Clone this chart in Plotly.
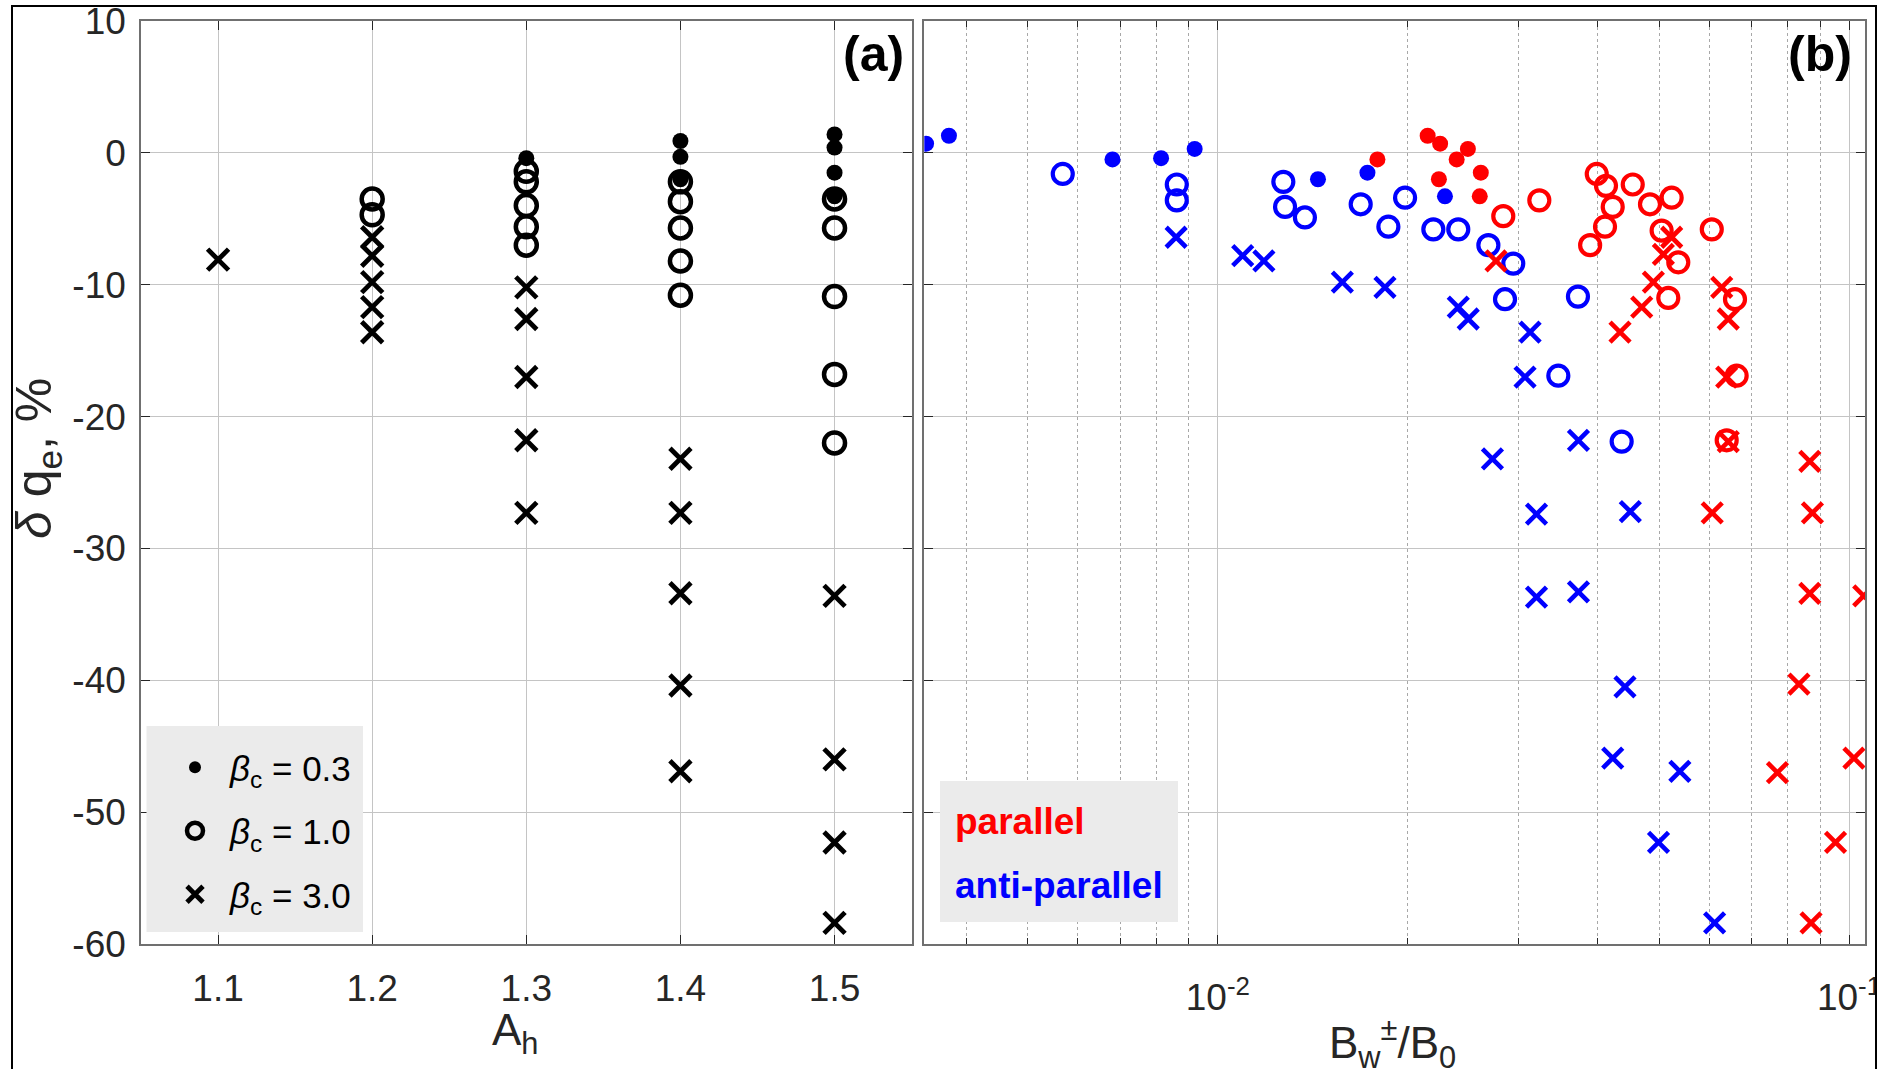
import plotly.graph_objects as go

# ---------------- Panel (a): delta q_e versus A_h ----------------
A_b03 = [1.3, 1.4, 1.4, 1.4, 1.5, 1.5, 1.5, 1.5]
dq_b03 = [-0.4, 0.9, -0.3, -2.0, 1.4, 0.4, -1.5, -3.3]

A_b10 = [1.2, 1.2, 1.3, 1.3, 1.3, 1.3, 1.3, 1.4, 1.4, 1.4, 1.4, 1.4,
         1.5, 1.5, 1.5, 1.5, 1.5]
dq_b10 = [-3.5, -4.7, -1.4, -2.2, -4.0, -5.6, -7.0, -2.2, -3.7, -5.7, -8.2, -10.8,
          -3.5, -5.7, -10.9, -16.8, -22.0]

A_b30 = [1.1, 1.2, 1.2, 1.2, 1.2, 1.2, 1.3, 1.3, 1.3, 1.3, 1.3,
         1.4, 1.4, 1.4, 1.4, 1.4, 1.5, 1.5, 1.5, 1.5]
dq_b30 = [-8.1, -6.4, -7.8, -9.8, -11.7, -13.6, -10.2, -12.6, -17.0, -21.8, -27.3,
          -23.2, -27.3, -33.4, -40.4, -46.9, -33.6, -46.0, -52.3, -58.4]

# ---------------- Panel (b): delta q_e versus B_w/B_0 ----------------
# parallel (red)
Bpar_b03 = [0.0179, 0.0215, 0.0225, 0.0224, 0.0239, 0.0249, 0.0261, 0.0260]
dqpar_b03 = [-0.5, 1.3, 0.7, -2.0, -0.5, 0.3, -1.5, -3.3]
Bpar_b10 = [0.02833, 0.03231, 0.03984, 0.04121, 0.04223, 0.04106, 0.03889, 0.04543,
            0.04838, 0.05236, 0.05048, 0.05364, 0.05172, 0.06061, 0.06597, 0.06637, 0.06400]
dqpar_b10 = [-4.8, -3.6, -1.6, -2.5, -4.1, -5.6, -7.0, -2.4,
             -3.9, -3.4, -5.9, -8.3, -11.0, -5.8, -11.1, -16.9, -21.8]
Bpar_b30 = [0.02759, 0.05236, 0.05080, 0.04898, 0.04694, 0.04337, 0.06285, 0.06437,
            0.06400, 0.06437, 0.08667, 0.08750, 0.06071, 0.08667, 0.1055, 0.08329,
            0.1018, 0.07702, 0.09519, 0.08706]
dqpar_b30 = [-8.2, -6.4, -7.7, -9.8, -11.7, -13.6, -10.2, -12.6,
             -17.0, -21.9, -23.4, -27.3, -27.3, -33.4, -33.6, -40.3,
             -45.9, -47.0, -52.3, -58.4]
# anti-parallel (blue)
Banti_b03 = [0.00345, 0.00375, 0.00681, 0.00813, 0.00919, 0.01441, 0.01726, 0.02290]
dqanti_b03 = [0.7, 1.3, -0.5, -0.4, 0.3, -2.0, -1.5, -3.3]
Banti_b10 = [0.00568, 0.00861, 0.00861, 0.01270, 0.01278, 0.01374, 0.01684, 0.01863,
             0.01980, 0.02195, 0.02404, 0.02683, 0.02938, 0.02851, 0.03720, 0.03463, 0.04363]
dqanti_b10 = [-1.6, -2.4, -3.6, -2.2, -4.1, -4.9, -3.9, -5.6,
              -3.4, -5.8, -5.8, -7.0, -8.4, -11.1, -10.9, -16.9, -21.9]
Banti_b30 = [0.00859, 0.01095, 0.01183, 0.01575, 0.01840, 0.02404, 0.02493, 0.03124,
             0.03067, 0.02723, 0.03727, 0.03198, 0.04503, 0.03198, 0.03727, 0.04416,
             0.04223, 0.05395, 0.04991, 0.06124]
dqanti_b30 = [-6.4, -7.8, -8.2, -9.8, -10.2, -11.7, -12.6, -13.6,
              -17.0, -23.2, -21.8, -27.4, -27.2, -33.7, -33.3, -40.5,
              -45.9, -46.9, -52.3, -58.4]

A_ticks = [1.1, 1.2, 1.3, 1.4, 1.5]
A_ticktext = ["1.1", "1.2", "1.3", "1.4", "1.5"]
B_ticks = [0.01, 0.1]
B_ticktext = ["10<sup>-2</sup>", "10<sup>-1</sup>"]
B_minor = [0.004, 0.005, 0.006, 0.007, 0.008, 0.009,
           0.02, 0.03, 0.04, 0.05, 0.06, 0.07, 0.08, 0.09]
dq_ticks = [10, 0, -10, -20, -30, -40, -50, -60]
dq_ticktext = ["10", "0", "-10", "-20", "-30", "-40", "-50", "-60"]

legend_labels = ["<i>β</i><sub>c</sub> = 0.3", "<i>β</i><sub>c</sub> = 1.0",
                 "<i>β</i><sub>c</sub> = 3.0"]

# ---------------- geometry ----------------
W, H = 1877, 1069
ML, MR, MT, MB = 141, 12, 21, 125
PW, PH = W - ML - MR, H - MT - MB


def px(x):
    """screen x pixel -> paper coordinate"""
    return (x - ML) / PW


def py(y):
    """screen y pixel -> paper coordinate"""
    return (H - MB - y) / PH


FONT = "Liberation Sans, Arial, Helvetica, sans-serif"
TXT = "#262626"
RED, BLUE, BLACK = "#ff0000", "#0000ff", "#000000"

# marker styles: panel (a) slightly larger than panel (b)
DOT_A = dict(symbol="circle", size=16, line=dict(width=0))
RING_A = dict(symbol="circle-open", size=21, line=dict(width=4.5))
CROSS_A = dict(symbol="x-thin-open", size=21, line=dict(width=4.8))
DOT_B = dict(symbol="circle", size=16, line=dict(width=0))
RING_B = dict(symbol="circle-open", size=20, line=dict(width=4.2))
CROSS_B = dict(symbol="x-thin-open", size=20, line=dict(width=4.6))


def mk(style, color, size=None):
    m = dict(style)
    m["color"] = color
    m["line"] = dict(style["line"], color=color)
    if size is not None:
        m["size"] = size
    return m


fig = go.Figure()

# panel (a)
for xs, ys, style in [(A_b03, dq_b03, DOT_A), (A_b10, dq_b10, RING_A),
                      (A_b30, dq_b30, CROSS_A)]:
    fig.add_trace(go.Scatter(x=xs, y=ys, mode="markers", marker=mk(style, BLACK),
                             showlegend=False, xaxis="x", yaxis="y"))

# legend entries for panel (a)
for lab, style, sz in [(legend_labels[0], DOT_A, 12), (legend_labels[1], RING_A, 16),
                       (legend_labels[2], CROSS_A, 16)]:
    fig.add_trace(go.Scatter(x=[None], y=[None], mode="markers",
                             marker=mk(style, BLACK, sz), name=lab, legendgroup=lab,
                             showlegend=True, xaxis="x", yaxis="y"))

# panel (b)
for xs, ys, style, col in [(Banti_b03, dqanti_b03, DOT_B, BLUE),
                           (Bpar_b03, dqpar_b03, DOT_B, RED),
                           (Banti_b10, dqanti_b10, RING_B, BLUE),
                           (Bpar_b10, dqpar_b10, RING_B, RED),
                           (Banti_b30, dqanti_b30, CROSS_B, BLUE),
                           (Bpar_b30, dqpar_b30, CROSS_B, RED)]:
    fig.add_trace(go.Scatter(x=xs, y=ys, mode="markers", marker=mk(style, col),
                             showlegend=False, xaxis="x2", yaxis="y2"))

AX_LINE = "#707070"
GRID = "#c4c4c4"
common = dict(showline=True, linecolor=AX_LINE, linewidth=1.5, mirror="ticks",
              ticks="inside", ticklen=9, tickwidth=1.3, tickcolor=TXT,
              showgrid=True, gridcolor=GRID, gridwidth=1.4, zeroline=False,
              automargin=False, ticklabeloverflow="allow",
              tickfont=dict(family=FONT, size=37, color=TXT))

fig.update_layout(
    width=W, height=H,
    margin=dict(l=ML, r=MR, t=MT, b=MB, autoexpand=False),
    paper_bgcolor="white", plot_bgcolor="white",
    font=dict(family=FONT, color=TXT),
    xaxis=dict(domain=[0, px(911.6)], range=[1.05, 1.55], anchor="y", tickmode="array",
               tickvals=A_ticks, ticktext=A_ticktext, ticklabelstandoff=11, **common),
    yaxis=dict(domain=[0, 1], range=[-60, 10], anchor="x", tickmode="array",
               tickvals=dq_ticks, ticktext=dq_ticktext, ticklabelstandoff=6, **common),
    xaxis2=dict(domain=[px(924.3), 1], type="log", range=[-2.465, -0.9747], anchor="y2",
                tickmode="array", tickvals=B_ticks, ticktext=B_ticktext,
                ticklabelstandoff=20,
                minor=dict(tickmode="array", tickvals=B_minor, ticks="inside", ticklen=6,
                           tickcolor=TXT, showgrid=True, gridcolor="#a8a8a8",
                           gridwidth=1, griddash="dot"),
                **common),
    yaxis2=dict(domain=[0, 1], range=[-60, 10], anchor="x2", matches="y",
                tickmode="array", tickvals=dq_ticks, showticklabels=False, **common),
    legend=dict(x=px(160), y=py(738), xanchor="left", yanchor="top",
                bgcolor="rgba(0,0,0,0)", borderwidth=0, traceorder="grouped",
                tracegroupgap=15, itemsizing="trace", itemwidth=60,
                font=dict(family=FONT, size=35, color=BLACK)),
)

annotations = [
    dict(text="<b>(a)</b>", x=px(906), y=py(24), xanchor="right", yanchor="top",
         font=dict(size=50, color=BLACK)),
    dict(text="<b>(b)</b>", x=px(1854), y=py(24), xanchor="right", yanchor="top",
         font=dict(size=50, color=BLACK)),
    dict(text="A<sub>h</sub>", x=px(515), y=py(1003), xanchor="center", yanchor="top",
         font=dict(size=44, color=TXT)),
    dict(text="B<sub>w</sub><sup>±</sup>/B<sub>0</sub>", x=px(1392), y=py(1010),
         xanchor="center", yanchor="top", font=dict(size=44, color=TXT)),
    dict(text="<i>δ</i> q<sub>e</sub>, %", x=px(37), y=py(459), textangle=-90,
         xanchor="center", yanchor="middle", font=dict(size=50, color=TXT)),
    dict(text="<b>parallel</b>", x=px(953), y=py(821), xanchor="left", yanchor="middle",
         font=dict(size=37, color=RED)),
    dict(text="<b>anti-parallel</b>", x=px(953), y=py(885), xanchor="left",
         yanchor="middle", font=dict(size=37, color=BLUE)),
]
for a in annotations:
    a.update(xref="paper", yref="paper", showarrow=False)
    a["font"]["family"] = FONT
fig.update_layout(annotations=annotations)

fig.update_layout(shapes=[
    dict(type="rect", xref="paper", yref="paper", x0=px(146.5), x1=px(363),
         y0=py(932), y1=py(726), fillcolor="#ebebeb", line=dict(width=0), layer="above"),
    dict(type="rect", xref="paper", yref="paper", x0=px(940), x1=px(1178),
         y0=py(922), y1=py(781), fillcolor="#ebebeb", line=dict(width=0), layer="above"),
    dict(type="rect", xref="paper", yref="paper", x0=px(12), x1=px(1876),
         y0=py(1080), y1=py(6), line=dict(color=BLACK, width=2),
         fillcolor="rgba(0,0,0,0)"),
])

# the page body's default 8 px margin would shift the figure; remove it
fig.write_html("out.html", config={"displayModeBar": False},
               post_script="document.body.style.margin='0px';")
